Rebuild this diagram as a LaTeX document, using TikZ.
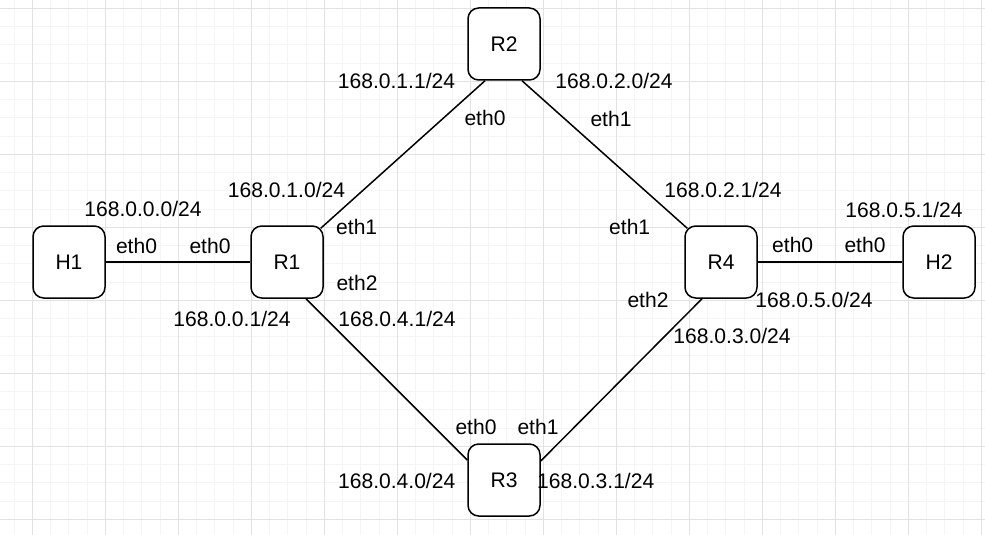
\documentclass[tikz,border=0pt]{standalone}
\usepackage{fontspec}
\setmainfont{Liberation Sans}
\definecolor{gridminor}{RGB}{245,245,245}
\definecolor{gridmajor}{RGB}{226,226,226}
\tikzset{
  x=0.75pt, y=-0.75pt,
  dev/.style={draw=black, line width=1.125pt, rounded corners=8pt, fill=white,
    minimum width=54pt, minimum height=54pt, inner sep=0pt, font=\fontsize{15.8pt}{18pt}\selectfont},
  lbl/.style={anchor=base, inner sep=0pt, font=\fontsize{15.8pt}{18pt}\selectfont},
  link/.style={draw=black, line width=1.125pt},
}
\begin{document}
\begin{tikzpicture}
\useasboundingbox (0,0) rectangle (985,535);
\fill[white] (0,0) rectangle (985,535);
\begin{scope}
\clip (0,0) rectangle (985,535);
\foreach \i in {-2,...,54} {
  \draw[gridminor, line width=0.75pt] ({32.3+18.25*\i},0) -- ({32.3+18.25*\i},535);
}
\foreach \j in {-1,...,29} {
  \draw[gridminor, line width=0.75pt] (0,{8.3+18.25*\j}) -- (985,{8.3+18.25*\j});
}
\foreach \i in {0,...,13} {
  \draw[gridmajor, line width=0.75pt] ({32.3+73*\i},0) -- ({32.3+73*\i},535);
}
\foreach \j in {0,...,7} {
  \draw[gridmajor, line width=0.75pt] (0,{8.3+73*\j}) -- (985,{8.3+73*\j});
}
\end{scope}

\coordinate (pH1) at (69,262);
\coordinate (pR1) at (287,262);
\coordinate (pR2) at (504,44);
\coordinate (pR3) at (504,480);
\coordinate (pR4) at (721,262);
\coordinate (pH2) at (939,262);

\node[dev] (H1) at (pH1) {H1};
\node[dev] (R1) at (pR1) {R1};
\node[dev] (R2) at (pR2) {R2};
\node[dev] (R3) at (pR3) {R3};
\node[dev] (R4) at (pR4) {R4};
\node[dev] (H2) at (pH2) {H2};

\draw[link] (H1.east) -- (R1.west);
\draw[link] (R4.east) -- (H2.west);
\draw[link] ([shift={(-3,3)}]R1.north east) -- ([shift={(-19,0)}]R2.south);
\draw[link] ([shift={(18,0)}]R2.south) -- ([shift={(3,3)}]R4.north west);
\draw[link] ([shift={(19,0)}]R1.south) -- ([shift={(0,-20)}]R3.west);
\draw[link] ([shift={(0,-19)}]R3.east) -- ([shift={(-19,0)}]R4.south);

\node[lbl] (t1) at (143,216.7) {168.0.0.0/24};
\node[lbl] (t2) at (136.5,253) {eth0};
\node[lbl] (t3) at (210,253) {eth0};
\node[lbl] (t4) at (286.5,197) {168.0.1.0/24};
\node[lbl] (t5) at (232,326.7) {168.0.0.1/24};
\node[lbl] (t6) at (356.7,234.3) {eth1};
\node[lbl] (t7) at (357,290) {eth2};
\node[lbl] (t8) at (397,326.7) {168.0.4.1/24};
\node[lbl] (t9) at (396.5,88.3) {168.0.1.1/24};
\node[lbl] (t10) at (485,125) {eth0};
\node[lbl] (t11) at (614,89) {168.0.2.0/24};
\node[lbl] (t12) at (611,126) {eth1};
\node[lbl] (t13) at (723,197.3) {168.0.2.1/24};
\node[lbl] (t14) at (629.7,234) {eth1};
\node[lbl] (t15) at (648,307.3) {eth2};
\node[lbl] (t16) at (732,343.3) {168.0.3.0/24};
\node[lbl] (t17) at (792.7,252.7) {eth0};
\node[lbl] (t18) at (865,252.7) {eth0};
\node[lbl] (t19) at (904,217.3) {168.0.5.1/24};
\node[lbl] (t20) at (814,307.3) {168.0.5.0/24};
\node[lbl] (t21) at (476,434.3) {eth0};
\node[lbl] (t22) at (538,434.3) {eth1};
\node[lbl] (t23) at (396.7,488.3) {168.0.4.0/24};
\node[lbl] (t24) at (595.7,488.3) {168.0.3.1/24};
\end{tikzpicture}
\end{document}
